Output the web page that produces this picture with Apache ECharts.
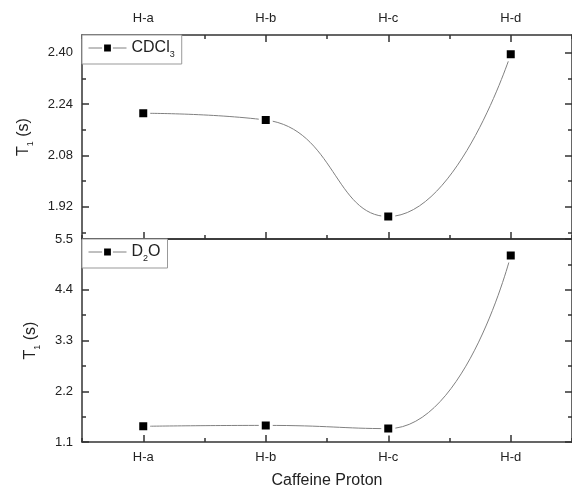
<!DOCTYPE html>
<html>
<head>
<meta charset="utf-8">
<script src="https://cdn.jsdelivr.net/npm/echarts@6/dist/echarts.min.js"></script>
<style>
  html, body { margin: 0; padding: 0; background: #fff; }
  #chart { width: 572px; height: 490px; }
</style>
</head>
<body>
<div id="chart"></div>
<script>
// data
var protons  = ['H-a', 'H-b', 'H-c', 'H-d'];
var t1CDCl3  = [2.211, 2.190, 1.889, 2.395];
var t1D2O    = [1.44, 1.46, 1.39, 5.14];

// tick labels
var topMajor = [1.92, 2.08, 2.24, 2.40];
var topMinor = [1.84, 2.00, 2.16, 2.32];
var topRange = [1.819, 2.455];
var botRange = [1.1, 5.5];
var botStep  = 1.1;

var font = 'Liberation Sans, Arial, sans-serif';
var ink = '#333';
var txt = '#222';

var chart = echarts.init(document.getElementById('chart'));

function xAx(grid, pos, major, showLine, extra) {
  var a = {
    type: 'category', gridIndex: grid, position: pos, data: protons, boundaryGap: true,
    axisLine: { show: showLine, lineStyle: { color: ink, width: 1.5 } },
    axisTick: { show: true, inside: true, interval: 0, alignWithLabel: major,
                length: major ? 7 : 4, lineStyle: { color: ink, width: 1.5 } },
    axisLabel: { show: false, interval: 0 },
    splitLine: { show: false }
  };
  return Object.assign(a, extra || {});
}

function yTop(pos, ticks, len, showLine, extra) {
  var a = {
    type: 'value', gridIndex: 0, position: pos, min: topRange[0], max: topRange[1],
    axisLine: { show: showLine, lineStyle: { color: ink, width: 1.5 } },
    axisTick: { show: true, inside: true, length: len, customValues: ticks,
                lineStyle: { color: ink, width: 1.5 } },
    axisLabel: { show: false, customValues: ticks },
    splitLine: { show: false }
  };
  return Object.assign(a, extra || {});
}

function yBot(pos, extra) {
  var a = {
    type: 'value', gridIndex: 1, position: pos, min: botRange[0], max: botRange[1], interval: botStep,
    axisLine: { show: true, lineStyle: { color: ink, width: 1.5 } },
    axisTick: { show: true, inside: true, length: 7, lineStyle: { color: ink, width: 1.5 } },
    minorTick: { show: true, splitNumber: 2, length: 4, lineStyle: { color: ink, width: 1.5 } },
    axisLabel: { show: false },
    splitLine: { show: false }
  };
  return Object.assign(a, extra || {});
}

var nameRich = {
  a: { fontSize: 16, color: txt, fontFamily: font },
  s: { fontSize: 9, color: txt, fontFamily: font, verticalAlign: 'bottom', padding: [0, 0, -3, 0] }
};
var yName = '{a|T}{s|1}{a| (s)}';

var legendRich = {
  a: { fontSize: 16, color: txt, fontFamily: font },
  s: { fontSize: 9, color: txt, fontFamily: font, verticalAlign: 'bottom', padding: [0, 0, -3, 0] }
};
function legendName(n) {
  return n === 'CDCl3' ? '{a|CDCl}{s|3}' : '{a|D}{s|2}{a|O}';
}
function legendBox(name, top) {
  return {
    data: [name], left: 82, top: top, orient: 'horizontal',
    padding: [5, 7, 5, 6], itemWidth: 38, itemHeight: 11,
    borderColor: '#999', borderWidth: 1, backgroundColor: '#fff',
    itemStyle: { color: '#000', borderColor: '#fff', borderWidth: 2 },
    lineStyle: { color: '#808080', width: 1 },
    formatter: legendName, textStyle: { rich: legendRich }
  };
}

var lblStyle = { show: true, color: txt, fontSize: 13, fontFamily: font };

var option = {
  animation: false,
  grid: [
    { left: 82, top: 35, width: 494, height: 204 },
    { left: 82, top: 239, width: 494, height: 203 }
  ],
  legend: [legendBox('CDCl3', 35), legendBox('D2O', 239)],
  xAxis: [
    xAx(0, 'top', true, true, { axisLabel: Object.assign({ interval: 0, margin: 10 }, lblStyle) }),
    xAx(0, 'top', false, false),
    xAx(0, 'bottom', true, true),
    xAx(0, 'bottom', false, false),
    xAx(1, 'bottom', true, true, {
      axisLabel: Object.assign({ interval: 0, margin: 9 }, lblStyle),
      name: 'Caffeine Proton', nameLocation: 'middle', nameGap: 31,
      nameTextStyle: { fontSize: 16, color: txt, fontFamily: font }
    }),
    xAx(1, 'bottom', false, false),
    xAx(1, 'top', false, true, { axisTick: { show: false } })
  ],
  yAxis: [
    yTop('left', topMajor, 7, true, {
      axisLabel: Object.assign({ customValues: topMajor, margin: 9,
        formatter: function (v) { return v.toFixed(2); } }, lblStyle),
      name: yName, nameLocation: 'middle', nameGap: 50,
      nameTextStyle: { rich: nameRich }
    }),
    yTop('left', topMinor, 4, false),
    yTop('right', topMajor, 7, true),
    yTop('right', topMinor, 4, false),
    yBot('left', {
      axisLabel: Object.assign({ margin: 9,
        formatter: function (v) { return v.toFixed(1); } }, lblStyle),
      name: yName, nameLocation: 'middle', nameGap: 43,
      nameTextStyle: { rich: nameRich }
    }),
    yBot('right')
  ],
  series: [
    {
      name: 'CDCl3', type: 'line', xAxisIndex: 0, yAxisIndex: 0,
      data: t1CDCl3, smooth: 0.5,
      symbol: 'rect', symbolSize: 11,
      itemStyle: { color: '#000', borderColor: '#fff', borderWidth: 3 },
      lineStyle: { color: '#808080', width: 1 }
    },
    {
      name: 'D2O', type: 'line', xAxisIndex: 4, yAxisIndex: 4,
      data: t1D2O, smooth: 0.5,
      symbol: 'rect', symbolSize: 11,
      itemStyle: { color: '#000', borderColor: '#fff', borderWidth: 3 },
      lineStyle: { color: '#808080', width: 1 }
    }
  ]
};

chart.setOption(option);
</script>
</body>
</html>
